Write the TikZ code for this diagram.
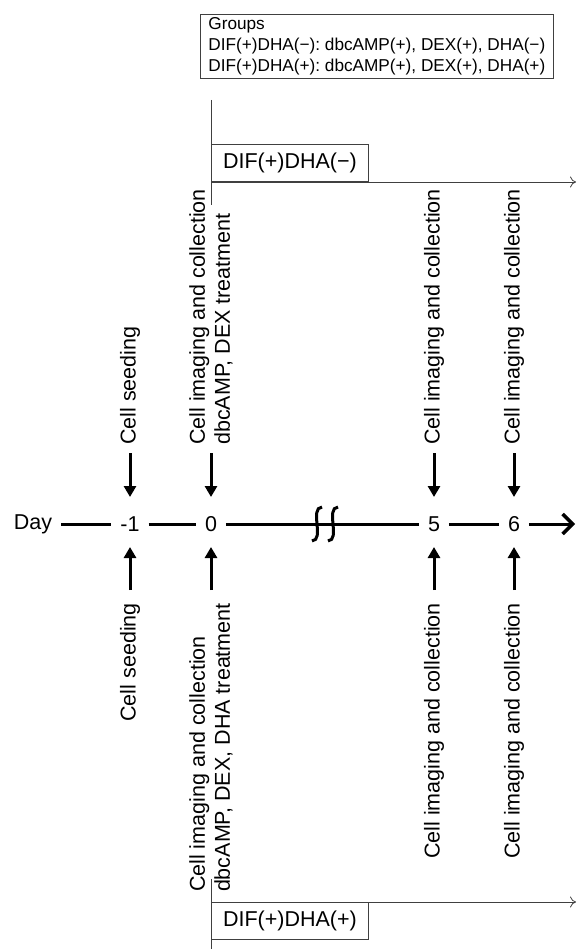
\documentclass[tikz,border=0pt]{standalone}
\usepackage{fontspec}
\setmainfont{Liberation Sans}
\usetikzlibrary{arrows.meta}
\frenchspacing
\begin{document}
\begin{tikzpicture}[x=1pt,y=-1pt,
		daynum/.style={font=\fontsize{21.5}{25}\selectfont, inner sep=0pt, outer sep=9pt},
		evt/.style={font=\fontsize{21.5}{25}\selectfont, rotate=90, align=left, inner sep=0pt},
		grpbox/.style={draw=black!75, line width=0.8pt, font=\fontsize{21.5}{25}\selectfont, minimum width=157pt, minimum height=37pt, inner sep=0pt},
		tline/.style={draw=black!75, line width=0.8pt},
		fat/.style={line width=3pt},
		fatarrow/.style={line width=3pt, -{Triangle[length=11pt,width=12pt]}}]
	\useasboundingbox (0,0) rectangle (576,949);
	\node (G) [draw=black!75, line width=0.8pt, anchor=north west, align=left, inner xsep=8pt, inner ysep=3pt, font=\fontsize{17.2}{21}\selectfont] at (200,14) {Groups\\DIF(+)DHA(−): dbcAMP(+), DEX(+), DHA(−)\\DIF(+)DHA(+): dbcAMP(+), DEX(+), DHA(+)};
	\coordinate (V_1_a) at (211,100);
	\coordinate (V_1_b) at (211,205);
	\draw[tline] (V_1_a) -- (V_1_b);
	\node (B_1) [grpbox, anchor=south west] at (211,182) {DIF(+)DHA(−)};
	\coordinate (A_1_e) at (576,182);
	\draw[tline, -{To[length=6pt,width=11pt]}] (B_1.south west) -- (A_1_e);
	\coordinate (V_2_a) at (211,879);
	\coordinate (V_2_b) at (211,949);
	\draw[tline] (V_2_a) -- (V_2_b);
	\node (B_2) [grpbox, anchor=north west] at (211,902) {DIF(+)DHA(+)};
	\coordinate (A_2_e) at (576,902);
	\draw[tline, -{To[length=6pt,width=11pt]}] (B_2.north west) -- (A_2_e);
	\node (D) [daynum] at (33,524) {Day};
	\node (D_m1) [daynum] at (130,524) {-1};
	\draw[fat] (D) -- (D_m1);
	\node (D_0) [daynum] at (211,524) {0};
	\draw[fat] (D_m1) -- (D_0);
	\node (D_5) [daynum] at (434,524) {5};
	\draw[fat] (D_0) -- (D_5);
	\node (D_6) [daynum] at (514,524) {6};
	\draw[fat] (D_5) -- (D_6);
	\coordinate (D_end) at (575,524);
	\draw[fat, -{Straight Barb[length=10pt,width=20pt,line width=3.5pt]}] (D_6) -- (D_end);
	\coordinate (K) at (317,524);
	\coordinate (K') at (333,524);
	\draw[fat] ([shift={(5,-17)}]K) .. controls ([shift={(-8,-16)}]K) and ([shift={(8,16)}]K) .. ([shift={(-5,17)}]K);
	\draw[fat] ([shift={(5,-17)}]K') .. controls ([shift={(-8,-16)}]K') and ([shift={(8,16)}]K') .. ([shift={(-5,17)}]K');
	\node (T_m1) [evt, anchor=west] at (130,445) {Cell seeding};
	\node (T_0) [evt, anchor=west] at (211,445) {Cell imaging and collection\\dbcAMP, DEX treatment};
	\node (T_5) [evt, anchor=west] at (434,445) {Cell imaging and collection};
	\node (T_6) [evt, anchor=west] at (514,445) {Cell imaging and collection};
	\node (U_m1) [evt, anchor=east] at (130,603) {Cell seeding};
	\node (U_0) [evt, anchor=east] at (211,603) {Cell imaging and collection\\dbcAMP, DEX, DHA treatment};
	\node (U_5) [evt, anchor=east] at (434,603) {Cell imaging and collection};
	\node (U_6) [evt, anchor=east] at (514,603) {Cell imaging and collection};
	\foreach \n/\x in {m1/130,0/211,5/434,6/514} {
		\coordinate (P_\n_a) at (\x,453);
		\coordinate (P_\n_b) at (\x,497);
		\draw[fatarrow] (P_\n_a) -- (P_\n_b);
		\coordinate (Q_\n_a) at (\x,590);
		\coordinate (Q_\n_b) at (\x,547);
		\draw[fatarrow] (Q_\n_a) -- (Q_\n_b);
	}
\end{tikzpicture}
\end{document}
